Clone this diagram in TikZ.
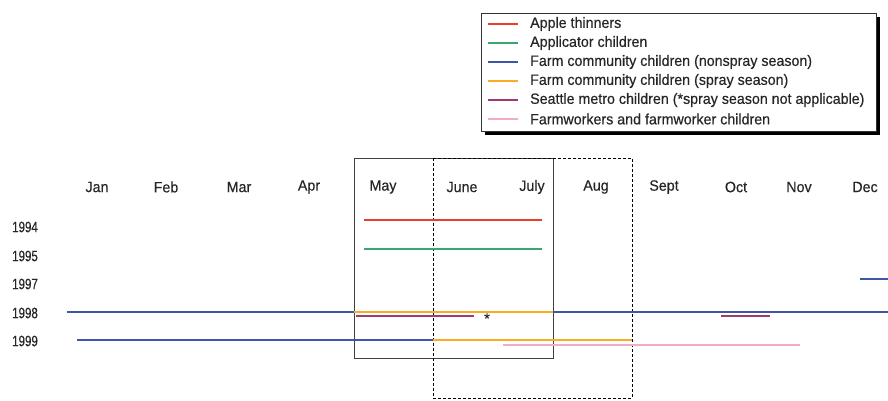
\documentclass[tikz,border=0pt]{standalone}
\usepackage{fontspec}
\setmainfont{Liberation Sans}[FakeStretch=0.95,FakeBold=0.4]
\newfontfamily\yearfont{Liberation Sans}[FakeStretch=0.77,FakeBold=0.4]
\definecolor{thinred}{RGB}{232,64,42}
\definecolor{applgreen}{RGB}{58,168,110}
\definecolor{nonblue}{RGB}{62,86,170}
\definecolor{sprayorange}{RGB}{250,172,38}
\definecolor{metropurple}{RGB}{160,58,118}
\definecolor{workpink}{RGB}{242,172,202}
\begin{document}
\begin{tikzpicture}[x=1pt,y=-1pt,font=\fontsize{15}{17}\selectfont, text=black!85,
  seg/.style={line width=2pt},
  year/.style={font=\yearfont\fontsize{15}{17}\selectfont}]
\useasboundingbox (0,0) rectangle (888,400);
% legend
\fill (485,17) rectangle (880,135);
\draw[fill=white, draw=black!80, line width=0.8pt] (481,13) rectangle (876,131);
\foreach \c/\t [count=\i] in {thinred/Apple thinners, applgreen/Applicator children,
  nonblue/Farm community children (nonspray season), sprayorange/Farm community children (spray season),
  metropurple/Seattle metro children (*spray season not applicable), workpink/Farmworkers and farmworker children}
{
  \draw[seg, \c](488,{5+19*\i})--(518,{5+19*\i});
  \node[anchor=west, inner sep=0] (leg\i) at (530,{5+19*\i}) {\t};
}
% months and years
\foreach \m/\x in {Jan/97, Feb/166, Mar/239, Apr/309, May/383, June/462, July/532, Aug/596, Sept/664, Oct/736, Nov/799, Dec/865}
  \node (\m) at (\x,187) {\m};
\foreach \yr/\y in {1994/227, 1995/256, 1997/284, 1998/313, 1999/341}
  \node[year] (y\yr) at (25,\y) {\yr};
% spray season boxes
\draw[line width=0.8pt, black!75] (354,158) rectangle (553,358);
\draw[line width=0.8pt, dash pattern=on 3pt off 2pt] (433,158) rectangle (632,398);
% study periods
\draw[seg, thinred](364,219.5)--(542,219.5);
\draw[seg, applgreen](364,249)--(542,249);
\draw[seg, nonblue](860,279)--(888,279);
\draw[seg, nonblue](67,311.7)--(354,311.7);
\draw[seg, sprayorange](354,311.7)--(553,311.7);
\draw[seg, nonblue](553,311.7)--(888,311.7);
\draw[seg, metropurple](356,316)--(474,316);
\node (ast) at (487,318.5){*};
\draw[seg, metropurple](721,316)--(770,316);
\draw[seg, nonblue](77,340)--(433,340);
\draw[seg, sprayorange](433,340)--(632,340);
\draw[seg, workpink](503,344.7)--(800,344.7);
\end{tikzpicture}
\end{document}
